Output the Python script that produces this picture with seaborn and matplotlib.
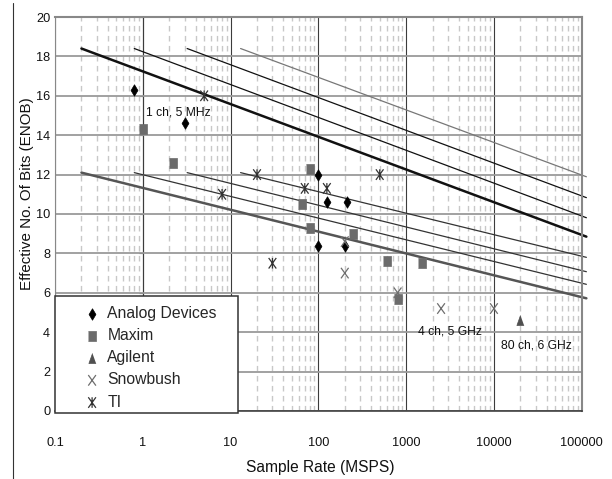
import matplotlib
matplotlib.use("Agg")
import matplotlib.pyplot as plt
from matplotlib.path import Path
from matplotlib.lines import Line2D
from matplotlib.patches import Rectangle
from matplotlib.ticker import LogLocator, NullFormatter
import seaborn as sns

# ---------------- data ----------------
ad_x = [0.8, 3, 100, 125, 210, 100, 200]
ad_y = [16.3, 14.6, 12.0, 10.6, 10.6, 8.4, 8.4]
maxim_x = [1, 2.2, 80, 65, 80, 250, 600, 1500, 800]
maxim_y = [14.3, 12.6, 12.3, 10.5, 9.3, 9.0, 7.6, 7.5, 5.7]
agilent_x = [20000]
agilent_y = [4.6]
snowbush_x = [200, 200, 800, 2500, 10000]
snowbush_y = [8.6, 7.0, 6.0, 5.2, 5.2]
ti_x = [5, 8, 20, 30, 70, 125, 500]
ti_y = [16.0, 11.0, 12.0, 7.5, 11.3, 11.3, 12.0]

series_names = ["Analog Devices", "Maxim", "Agilent", "Snowbush", "TI"]

# figure-of-merit lines: common start x, end x
fom_start_x = [0.2, 0.8, 3.2, 13]
fom_end_x = 113000
upper_start_y = 18.4
upper_end_y = [8.85, 9.81, 10.83, 11.89]
lower_start_y = 12.1
lower_end_y = [5.72, 6.43, 7.07, 7.8]

note_text = ["1 ch, 5 MHz", "4 ch, 5 GHz", "80 ch, 6 GHz"]
note_x = [1.09, 1380, 12100]
note_y = [15.14, 4.03, 3.33]

x_ticks = [0.1, 1, 10, 100, 1000, 10000, 100000]
x_tick_labels = ["0.1", "1", "10", "100", "1000", "10000", "100000"]
y_ticks = [0, 2, 4, 6, 8, 10, 12, 14, 16, 18, 20]

# ---------------- style ----------------
sns.set_style("white")
plt.rcParams["font.family"] = ["Liberation Sans", "DejaVu Sans"]

fig = plt.figure(figsize=(6.12, 4.79), dpi=100)
ax = fig.add_axes([0.0899, 0.1420, 0.8606, 0.8225])

# marker shapes
sq = [(-0.37, -0.5), (0.37, -0.5), (0.37, 0.5), (-0.37, 0.5)]
tri = [(0, 0.5), (-0.36, -0.5), (0.36, -0.5)]
xm = Path([(-0.36, -0.5), (0.36, 0.5), (-0.36, 0.5), (0.36, -0.5)],
          [Path.MOVETO, Path.LINETO, Path.MOVETO, Path.LINETO])
asm = Path([(-0.36, -0.5), (0.36, 0.5), (-0.36, 0.5), (0.36, -0.5), (0, -0.5), (0, 0.5)],
           [Path.MOVETO, Path.LINETO, Path.MOVETO, Path.LINETO, Path.MOVETO, Path.LINETO])

# FOM lines
for i, sx in enumerate(fom_start_x):
    lw = 1.8 if i == 0 else 0.9
    col = "#111111" if i < 3 else "#777777"
    sns.lineplot(x=[sx, fom_end_x], y=[upper_start_y, upper_end_y[i]], ax=ax,
                 color=col, linewidth=lw, clip_on=False, zorder=2)
    col2 = "#555555" if i == 0 else "#333333"
    sns.lineplot(x=[sx, fom_end_x], y=[lower_start_y, lower_end_y[i]], ax=ax,
                 color=col2, linewidth=lw, clip_on=False, zorder=2)

# scatter series
sns.scatterplot(x=ad_x, y=ad_y, ax=ax, marker="d", s=34, color="black",
                edgecolor="black", linewidth=0.5, label=series_names[0], zorder=3)
sns.scatterplot(x=maxim_x, y=maxim_y, ax=ax, marker=sq, s=58, color="#6b6b6b",
                edgecolor="#6b6b6b", linewidth=0.5, label=series_names[1], zorder=3)
sns.scatterplot(x=agilent_x, y=agilent_y, ax=ax, marker=tri, s=52, color="#505050",
                edgecolor="#505050", linewidth=0.5, label=series_names[2], zorder=3)
sns.scatterplot(x=snowbush_x, y=snowbush_y, ax=ax, marker=xm, s=58, facecolor="none",
                edgecolor="#6e6e6e", linewidth=0.9, label=series_names[3], zorder=3)
sns.scatterplot(x=ti_x, y=ti_y, ax=ax, marker=asm, s=58, facecolor="none",
                edgecolor="#333333", linewidth=0.9, label=series_names[4], zorder=3)

for t, xx, yy in zip(note_text, note_x, note_y):
    ax.text(xx, yy, t, fontsize=8.7, ha="left", va="center", color="#111111", zorder=4)

# axes
ax.set_xscale("log")
ax.set_xlim(0.1, 100000)
ax.set_ylim(0, 20)
ax.set_xticks(x_ticks)
ax.set_xticklabels(x_tick_labels)
ax.xaxis.set_minor_locator(LogLocator(base=10, subs=range(2, 10), numticks=100))
ax.xaxis.set_minor_formatter(NullFormatter())
ax.set_yticks(y_ticks)
ax.tick_params(axis="x", which="both", direction="in", length=2.5, width=0.8,
               color="#333333", pad=18.5, labelsize=9.2, labelcolor="#111111")
ax.tick_params(axis="y", length=0, pad=3.5, labelsize=9.2, labelcolor="#111111")

ax.set_axisbelow(True)
ax.grid(axis="x", which="major", color="#3c3c3c", linewidth=0.8)
ax.grid(axis="x", which="minor", color="#c8c8c8", linewidth=1.0, linestyle=(0, (4, 3.2)))
ax.grid(axis="y", which="major", color="#9a9a9a", linewidth=1.3)

for side in ["top", "right"]:
    ax.spines[side].set_color("#888888")
    ax.spines[side].set_linewidth(1.5)
ax.spines["left"].set_color("#888888")
ax.spines["left"].set_linewidth(0.8)
ax.spines["bottom"].set_color("#333333")
ax.spines["bottom"].set_linewidth(1.1)

# value axis crossing at x = 1 (tick marks only)
sec = ax.secondary_yaxis(1 / 6)
sec.set_yticks(y_ticks)
sec.set_yticklabels([])
sec.tick_params(length=3, width=0.8, color="#333333", direction="out")
sec.spines["left"].set_color("#3c3c3c")
sec.spines["left"].set_linewidth(0.8)

ax.set_xlabel("Sample Rate (MSPS)", fontsize=11.2, color="#111111")
ax.set_ylabel("Effective No. Of Bits (ENOB)", fontsize=10.9, color="#111111")
ax.xaxis.set_label_coords(0.503, -0.125)
ax.yaxis.set_label_coords(-0.040, 0.551)

# legend
ax.add_patch(Rectangle((0, -0.004), 0.3474, 0.2966, transform=ax.transAxes,
                       facecolor="white", edgecolor="#333333", linewidth=1.1,
                       zorder=4, clip_on=False))
leg = ax.legend(loc="upper left", bbox_to_anchor=(0.0555, 0.267), frameon=False,
                borderpad=0, borderaxespad=0, handlelength=1.0, handletextpad=0.47,
                labelspacing=0.46, fontsize=11.3)
leg.set_zorder(5)

# page edge line on the left
fig.add_artist(Line2D([13 / 612, 13 / 612], [0, 1 - 3 / 479], transform=fig.transFigure,
                      color="#333333", linewidth=0.8))

fig.savefig("out.png", dpi=100)
